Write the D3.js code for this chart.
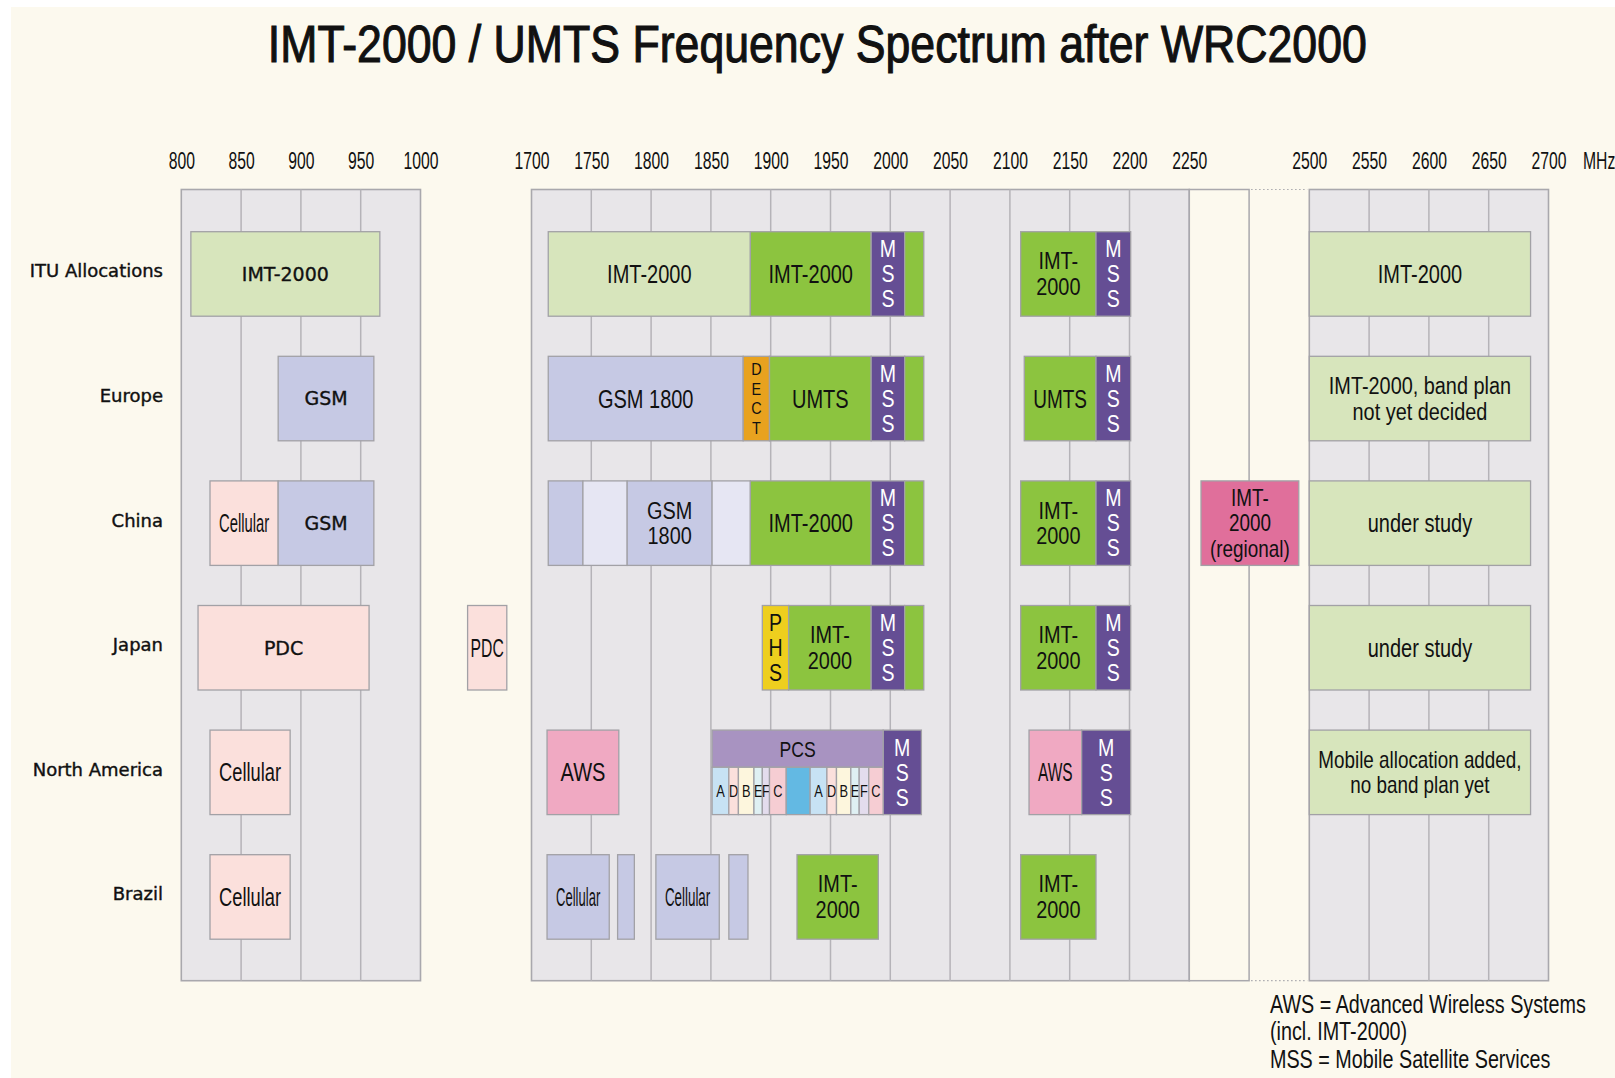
<!DOCTYPE html>
<html>
<head>
<meta charset="utf-8">
<script src="https://cdn.jsdelivr.net/npm/d3@7"></script>
<style>
html, body { margin: 0; padding: 0; background: #fff; }
svg { display: block; }
</style>
</head>
<body>
<script>
// rows and axis ticks (MHz)
const regions = ["ITU Allocations", "Europe", "China", "Japan", "North America", "Brazil"];
const ticksLow  = [800, 850, 900, 950, 1000];
const ticksMid  = [1700, 1750, 1800, 1850, 1900, 1950, 2000, 2050, 2100, 2150, 2200, 2250];
const ticksHigh = [2500, 2550, 2600, 2650, 2700];
const notes = ["AWS = Advanced Wireless Systems", "(incl. IMT-2000)", "MSS = Mobile Satellite Services"];

// bands per row: [from MHz, to MHz, label, service]
const ituBands = [
	[808, 966, "IMT-2000", "imtPlan"],
	[1714, 1883, "IMT-2000", "imtPlan"],
	[1883, 1984, "IMT-2000", "imt"],
	[1984, 2012, "MSS", "mss"],
	[2012, 2028, "", "imt"],
	[2109, 2172, "IMT-\n2000", "imt"],
	[2172, 2201, "MSS", "mss"],
	[2500, 2685, "IMT-2000", "imtPlan"]
];
const europeBands = [
	[881, 961, "GSM", "gsm"],
	[1714, 1877, "GSM 1800", "gsm"],
	[1877, 1899, "DECT", "dect"],
	[1899, 1984, "UMTS", "imt"],
	[1984, 2012, "MSS", "mss"],
	[2012, 2028, "", "imt"],
	[2112, 2172, "UMTS", "imt"],
	[2172, 2201, "MSS", "mss"],
	[2500, 2685, "IMT-2000, band plan\nnot yet decided", "imtPlan"]
];
const chinaBands = [
	[824, 881, "Cellular", "cellular"],
	[881, 961, "GSM", "gsm"],
	[1714, 1743, "", "gsm"],
	[1743, 1780, "", "gsmGap"],
	[1780, 1851, "GSM\n1800", "gsm"],
	[1851, 1883, "", "gsmGap"],
	[1883, 1984, "IMT-2000", "imt"],
	[1984, 2012, "MSS", "mss"],
	[2012, 2028, "", "imt"],
	[2109, 2172, "IMT-\n2000", "imt"],
	[2172, 2201, "MSS", "mss"],
	[2300, 2400, "IMT-\n2000\n(regional)", "regional"],
	[2500, 2685, "under study", "imtPlan"]
];
const japanBands = [
	[814, 957, "PDC", "cellular"],
	[1429, 1501, "PDC", "cellular"],
	[1893, 1915, "PHS", "phs"],
	[1915, 1984, "IMT-\n2000", "imt"],
	[1984, 2012, "MSS", "mss"],
	[2012, 2028, "", "imt"],
	[2109, 2172, "IMT-\n2000", "imt"],
	[2172, 2201, "MSS", "mss"],
	[2500, 2685, "under study", "imtPlan"]
];
const northAmericaBands = [
	[824, 891, "Cellular", "cellular"],
	[1713, 1773, "AWS", "aws"],
	[1994, 2026, "MSS", "mss"],
	[2116, 2160, "AWS", "aws"],
	[2160, 2201, "MSS", "mss"],
	[2500, 2685, "Mobile allocation added,\nno band plan yet", "imtPlan"]
];
const pcsHeader = [[1851, 1994, "PCS"]];
const pcsBlocks = [
	[1851, 1865, "A"], [1865, 1873, "D"], [1873, 1886, "B"], [1886, 1893, "E"],
	[1893, 1899, "F"], [1899, 1913, "C"], [1913, 1933, ""], [1933, 1947, "A"],
	[1947, 1955, "D"], [1955, 1967, "B"], [1967, 1974, "E"], [1974, 1982, "F"],
	[1982, 1994, "C"]
];
const brazilBands = [
	[824, 891, "Cellular", "cellular"],
	[1713, 1765, "Cellular", "gsm"],
	[1772, 1786, "", "gsm"],
	[1804, 1857, "Cellular", "gsm"],
	[1865, 1881, "", "gsm"],
	[1922, 1990, "IMT-\n2000", "imt"],
	[2109, 2172, "IMT-\n2000", "imt"]
];
const rowBands = [ituBands, europeBands, chinaBands, japanBands, northAmericaBands, brazilBands];

// colours
const serviceColor = {
	imtPlan: "#d7e5bc", imt: "#8cc43f", mss: "#654e94", gsm: "#c6c9e4", gsmGap: "#e6e6f3",
	cellular: "#fbe0dc", dect: "#e8a21f", phs: "#eecf1e", aws: "#f0a9c2", regional: "#e06f9b",
	pcs: "#a893c1"
};
const pcsColor = { A: "#c7e2f4", D: "#fbe0dc", B: "#fdf6dd", E: "#dff0f3", F: "#e3dced", C: "#f6cdd3", "": "#63b9e3" };

const W = 1615, H = 1078;
const cream = "#fcf9ee", panelFill = "#e8e6e9", frame = "#a9a8ad", gridC = "#b5b3b8", boxStroke = "#a2a1a6";
const narrow = "'Liberation Sans', Arial, sans-serif";
const wide = "'DejaVu Sans', Verdana, sans-serif";
const yTop = 189.5, yBottom = 980.7;

// broken frequency axis
const x = d3.scaleLinear()
	.domain([800, 1000, 1429, 1501, 1700, 2250, 2300, 2400, 2500, 2700])
	.range([181.3, 420.5, 467.6, 506.8, 531.5, 1189.3, 1201, 1298.8, 1309.3, 1548.5]);
const y = d3.scaleBand().domain(regions).range([231.7, 939.2]).paddingInner(0.3218).paddingOuter(0);

const svg = d3.select("body").append("svg").attr("width", W).attr("height", H);
svg.append("rect").attr("width", W).attr("height", H).attr("fill", "#fff");
svg.append("rect").attr("x", 11).attr("y", 7).attr("width", W - 11).attr("height", H - 7).attr("fill", cream);

// title
svg.append("text")
	.attr("x", 267.8).attr("y", 62)
	.attr("font-family", narrow).attr("font-size", 51)
	.attr("textLength", 1099).attr("lengthAdjust", "spacingAndGlyphs")
	.attr("fill", "#111").attr("stroke", "#111").attr("stroke-width", 1.1)
	.text("IMT-2000 / UMTS Frequency Spectrum after WRC2000");

// panels
[ticksLow, ticksMid, ticksHigh].forEach(t => {
	const a = t[0], b = t[t.length - 1];
	svg.append("rect")
		.attr("x", x(a)).attr("y", yTop).attr("width", x(b) - x(a)).attr("height", yBottom - yTop)
		.attr("fill", panelFill).attr("stroke", frame).attr("stroke-width", 1.6);
	svg.selectAll(null).data(t.slice(1, -1)).enter().append("line")
		.attr("x1", d => x(d)).attr("x2", d => x(d))
		.attr("y1", yTop).attr("y2", yBottom)
		.attr("stroke", gridC).attr("stroke-width", 1.5);
});
// empty column after 2250 and dotted break
const colL = x(2250), colR = x(2250) + (x(2250) - x(2200));
svg.append("rect").attr("x", colL).attr("y", yTop).attr("width", colR - colL).attr("height", yBottom - yTop)
	.attr("fill", cream).attr("stroke", frame).attr("stroke-width", 1.5);
[yTop, yBottom].forEach(yy => {
	svg.append("line").attr("x1", colR + 2).attr("x2", x(2500) - 2).attr("y1", yy).attr("y2", yy)
		.attr("stroke", frame).attr("stroke-width", 1.2).attr("stroke-dasharray", "1.5,2.5");
});

// tick labels
const allTicks = ticksLow.concat(ticksMid, ticksHigh);
const axis = svg.append("g").attr("transform", "translate(0,169)")
	.call(d3.axisTop(x).tickValues(allTicks).tickSize(0).tickPadding(0).tickFormat(d3.format("d")));
axis.select(".domain").remove();
axis.selectAll("text")
	.attr("font-family", narrow).attr("font-size", 23).attr("fill", "#111")
	.attr("dy", 0).attr("transform", "scale(0.684,1)");
svg.append("text")
	.attr("font-family", narrow).attr("font-size", 23).attr("fill", "#111")
	.attr("transform", "translate(1583,169) scale(0.684,1)")
	.text("MHz");

// row labels
svg.selectAll(null).data(regions).enter().append("text")
	.attr("x", 163).attr("y", d => y(d) + y.bandwidth() / 2 + 3.5)
	.attr("text-anchor", "end")
	.attr("font-family", wide).attr("font-size", 18).attr("fill", "#111")
	.attr("stroke", "#111").attr("stroke-width", 0.4)
	.text(d => d);

function label(cx, cy, txt, o) {
	const lines = o.vertical ? txt.split("") : txt.split("\n");
	const multi = lines.length > 1 && !o.vertical;
	const size = multi ? o.size - 2 : o.size;
	const step = o.step || size * 1.1;
	const t = svg.append("text")
		.attr("font-family", o.family).attr("font-size", size)
		.attr("fill", o.color || "#111").attr("text-anchor", "middle");
	if (o.bold) t.attr("stroke", "#111").attr("stroke-width", 0.35);
	lines.forEach((s, i) => {
		t.append("tspan").attr("x", 0)
			.attr("y", (i - (lines.length - 1) / 2) * step + size * 0.36)
			.text(s);
	});
	let sx = multi ? o.maxSx * 1.08 : o.maxSx;
	if (o.width) {
		const w = d3.max(t.selectAll("tspan").nodes(), n => n.getComputedTextLength());
		const pad = o.width < 45 ? 6 : o.pad;
		sx = Math.min(sx, (o.width - pad) / w);
	}
	t.attr("transform", `translate(${cx},${cy}) scale(${sx},1)`);
}

function box(x0, x1, y0, y1, fill) {
	svg.append("rect")
		.attr("x", x0).attr("y", y0).attr("width", x1 - x0).attr("height", y1 - y0)
		.attr("fill", fill).attr("stroke", boxStroke).attr("stroke-width", 1.3);
}

const vStyle = {
	MSS: { size: 23, step: 25 },
	DECT: { size: 17, step: 19.5 },
	PHS: { size: 23, step: 25 }
};

rowBands.forEach((bands, i) => {
	const y0 = y(regions[i]), y1 = y0 + y.bandwidth(), cy = (y0 + y1) / 2;
	bands.forEach(b => {
		const [f0, f1, txt, service] = b;
		const x0 = x(f0), x1 = x(f1);
		box(x0, x1, y0, y1, serviceColor[service]);
		if (!txt) return;
		const cx = (x0 + x1) / 2;
		if (vStyle[txt]) {
			label(cx, cy, txt, { size: vStyle[txt].size, step: vStyle[txt].step, family: narrow, maxSx: 0.85, vertical: true, color: service === "mss" ? "#fff" : "#111" });
		} else if (f1 <= 1000 && txt !== "Cellular") {
			label(cx, cy, txt, { size: 19, family: wide, maxSx: 1, width: x1 - x0, pad: 10, bold: true });
		} else {
			label(cx, cy, txt, { size: 25, step: 25.5, family: narrow, maxSx: 0.8, width: x1 - x0, pad: 18 });
		}
	});
});

// North America PCS block: header strip over the sub-bands
{
	const y0 = y("North America"), y1 = y0 + y.bandwidth(), ym = y0 + y.bandwidth() * 0.44;
	pcsHeader.forEach(([f0, f1, txt]) => {
		box(x(f0), x(f1), y0, ym, serviceColor.pcs);
		label((x(f0) + x(f1)) / 2, (y0 + ym) / 2, txt, { size: 22, family: narrow, maxSx: 0.8 });
	});
	pcsBlocks.forEach(([f0, f1, txt]) => {
		box(x(f0), x(f1), ym, y1, pcsColor[txt]);
		if (txt) label((x(f0) + x(f1)) / 2, (ym + y1) / 2, txt, { size: 16, family: narrow, maxSx: 0.8 });
	});
}

// footnote
notes.forEach((s, i) => {
	svg.append("text")
		.attr("font-family", narrow).attr("font-size", 25.5).attr("fill", "#111")
		.attr("transform", `translate(1270,${1012.7 + i * 27.7}) scale(0.775,1)`)
		.text(s);
});
</script>
</body>
</html>
